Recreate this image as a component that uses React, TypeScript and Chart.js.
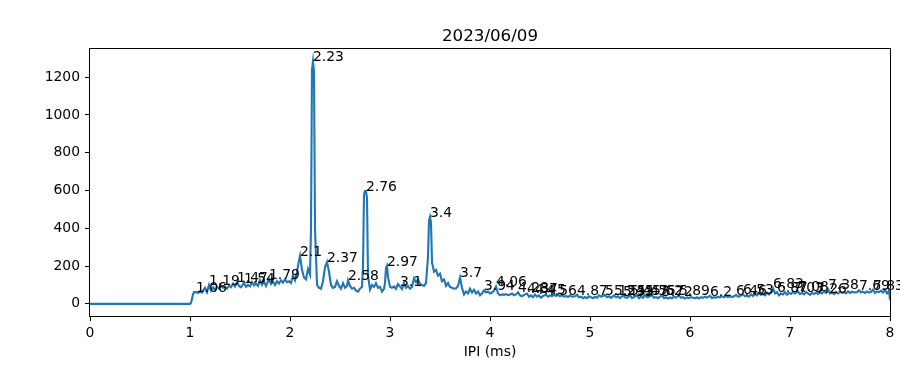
import React, { useEffect, useRef } from 'react';
import { Chart, registerables } from 'chart.js';

Chart.register(...registerables);

const titleText = '2023/06/09';
const xAxisLabel = 'IPI (ms)';
const xTicks = [0, 1, 2, 3, 4, 5, 6, 7, 8];
const yTicks = [0, 200, 400, 600, 800, 1000, 1200];

const ipiMs = [
  0, 1.0, 1.01, 1.03, 1.04, 1.06, 1.08, 1.1, 1.12, 1.14, 1.15, 1.17, 1.19, 1.21, 1.23, 1.25, 1.27, 1.29,
  1.31, 1.33, 1.35, 1.37, 1.39, 1.41, 1.43, 1.45, 1.47, 1.49, 1.51, 1.54, 1.56, 1.58, 1.6, 1.62, 1.64,
  1.66, 1.68, 1.7, 1.72, 1.74, 1.76, 1.79, 1.81, 1.83, 1.85, 1.87, 1.89, 1.91, 1.93, 1.95, 1.97, 1.99,
  2.01, 2.03, 2.05, 2.07, 2.09, 2.1, 2.12, 2.14, 2.16, 2.18, 2.2, 2.21, 2.22, 2.23, 2.24, 2.25, 2.27,
  2.29, 2.31, 2.33, 2.35, 2.37, 2.39, 2.41, 2.43, 2.45, 2.47, 2.49, 2.51, 2.53, 2.55, 2.57, 2.58, 2.6,
  2.62, 2.64, 2.66, 2.68, 2.7, 2.72, 2.73, 2.74, 2.75, 2.76, 2.77, 2.78, 2.8, 2.82, 2.84, 2.86, 2.88,
  2.9, 2.92, 2.94, 2.95, 2.96, 2.97, 2.98, 3.0, 3.02, 3.04, 3.06, 3.08, 3.1, 3.12, 3.14, 3.16, 3.18,
  3.2, 3.22, 3.24, 3.26, 3.28, 3.3, 3.32, 3.34, 3.36, 3.38, 3.39, 3.4, 3.41, 3.42, 3.44, 3.46, 3.48,
  3.5, 3.52, 3.54, 3.56, 3.58, 3.6, 3.62, 3.64, 3.66, 3.68, 3.7, 3.72, 3.74, 3.76, 3.78, 3.8, 3.82,
  3.84, 3.86, 3.88, 3.9, 3.92, 3.94, 3.96, 3.98, 4.0, 4.02, 4.04, 4.06, 4.08, 4.1, 4.12, 4.14, 4.16,
  4.18, 4.2, 4.22, 4.24, 4.26, 4.28, 4.3, 4.32, 4.34, 4.37, 4.39, 4.41, 4.43, 4.45, 4.47, 4.49, 4.51,
  4.53, 4.56, 4.58, 4.6, 4.62, 4.64, 4.66, 4.68, 4.7, 4.72, 4.74, 4.76, 4.78, 4.8, 4.82, 4.85, 4.87,
  4.89, 4.91, 4.93, 4.95, 4.97, 4.99, 5.01, 5.03, 5.05, 5.07, 5.09, 5.11, 5.13, 5.15, 5.17, 5.19, 5.21,
  5.24, 5.26, 5.28, 5.3, 5.33, 5.35, 5.37, 5.4, 5.42, 5.44, 5.47, 5.49, 5.51, 5.53, 5.55, 5.57, 5.59,
  5.62, 5.64, 5.66, 5.68, 5.7, 5.72, 5.74, 5.76, 5.78, 5.8, 5.82, 5.84, 5.86, 5.89, 5.91, 5.93, 5.95,
  5.97, 5.99, 6.01, 6.03, 6.05, 6.07, 6.09, 6.11, 6.13, 6.15, 6.17, 6.2, 6.22, 6.24, 6.26, 6.28, 6.3,
  6.32, 6.34, 6.36, 6.38, 6.4, 6.42, 6.44, 6.46, 6.48, 6.5, 6.53, 6.55, 6.57, 6.59, 6.61, 6.63, 6.65,
  6.67, 6.69, 6.71, 6.73, 6.75, 6.77, 6.79, 6.81, 6.83, 6.85, 6.87, 6.89, 6.91, 6.93, 6.95, 6.97, 6.99,
  7.01, 7.03, 7.05, 7.08, 7.1, 7.12, 7.14, 7.16, 7.18, 7.2, 7.22, 7.24, 7.26, 7.28, 7.3, 7.32, 7.34,
  7.36, 7.38, 7.4, 7.42, 7.44, 7.46, 7.48, 7.5, 7.52, 7.54, 7.56, 7.58, 7.6, 7.62, 7.64, 7.67, 7.69,
  7.71, 7.73, 7.75, 7.77, 7.79, 7.81, 7.83, 7.85, 7.87, 7.89, 7.91, 7.93, 7.95, 7.97, 7.99, 8.0,
];

const counts = [
  0, 0, 5, 50, 62, 62, 58, 63, 60, 78, 85, 62, 100, 70, 88, 72, 92, 80,
  95, 85, 90, 80, 96, 88, 108, 92, 115, 95, 88, 112, 90, 100, 92, 115, 98,
  108, 95, 125, 100, 118, 95, 132, 105, 118, 100, 120, 108, 125, 112, 130, 115, 120,
  110, 150, 125, 170, 230, 255, 180, 140, 130, 185, 155, 400, 1240, 1285, 1230, 400, 100,
  85, 80, 120, 195, 222, 170, 100, 85, 90, 120, 95, 80, 110, 85, 95, 125, 95,
  80, 85, 70, 65, 80, 90, 200, 580, 597, 597, 560, 150, 75, 100, 90, 110, 85,
  90, 65, 80, 110, 190, 202, 140, 90, 85, 92, 80, 105, 92, 78, 110, 85, 95,
  80, 90, 135, 115, 130, 105, 100, 95, 110, 250, 440, 460, 430, 220, 170, 180, 150,
  160, 120, 130, 95, 110, 90, 85, 80, 82, 95, 140, 85, 50, 65, 55, 80, 60,
  75, 55, 65, 45, 55, 72, 60, 65, 55, 60, 70, 92, 55, 45, 50, 48, 52,
  46, 50, 55, 45, 50, 62, 45, 40, 48, 55, 38, 45, 35, 50, 38, 45, 32,
  42, 48, 38, 45, 40, 50, 42, 48, 40, 46, 38, 42, 36, 44, 38, 40, 48,
  35, 38, 30, 36, 30, 40, 35, 30, 38, 32, 45, 38, 42, 48, 35, 40, 32,
  45, 35, 40, 30, 44, 35, 32, 46, 30, 36, 45, 30, 38, 32, 48, 35, 38,
  46, 32, 36, 30, 38, 44, 30, 35, 28, 34, 30, 38, 33, 45, 32, 36, 28,
  34, 30, 36, 32, 30, 35, 28, 36, 32, 38, 33, 42, 30, 36, 32, 38, 34,
  40, 35, 42, 36, 40, 36, 40, 48, 38, 42, 50, 40, 44, 38, 50, 42, 55,
  45, 58, 48, 52, 45, 60, 50, 62, 82, 55, 62, 45, 55, 50, 62, 48, 58,
  52, 64, 55, 66, 52, 58, 50, 62, 55, 48, 58, 52, 60, 52, 62, 55, 65,
  58, 78, 55, 60, 52, 62, 55, 65, 58, 62, 55, 66, 58, 65, 60, 62, 72,
  60, 65, 58, 66, 60, 64, 75, 58, 66, 62, 70, 60, 72, 55, 70, 20,
];

const peakIpi = [
  1.06, 1.19, 1.47, 1.54, 1.79, 2.1, 2.23, 2.37, 2.58, 2.76, 2.97, 3.1, 3.4, 3.7, 3.94, 4.06,
  4.28, 4.37, 4.45, 4.56, 4.87, 5.15, 5.24, 5.33, 5.4, 5.47, 5.55, 5.62, 5.72, 5.89, 6.2, 6.46,
  6.53, 6.83, 6.87, 7.03, 7.08, 7.26, 7.38, 7.69, 7.83,
];

const FONT = "'DejaVu Sans', sans-serif";

export default function App() {
  const canvasRef = useRef<HTMLCanvasElement | null>(null);

  useEffect(() => {
    document.body.style.margin = '0';
    const canvas = canvasRef.current;
    if (!canvas) return;

    const points = ipiMs.map((x, i) => ({ x, y: counts[i] }));
    const peaks = peakIpi.map((p) => {
      const idx = ipiMs.findIndex((v) => Math.abs(v - p) < 1e-9);
      return { x: p, y: counts[idx], label: String(p) };
    });

    const decorations = {
      id: 'decorations',
      afterDatasetsDraw(chart: any) {
        const { ctx, chartArea, scales } = chart;
        const xs = scales.x;
        const ys = scales.y;
        ctx.save();
        ctx.fillStyle = '#000';
        ctx.font = `13.9px ${FONT}`;
        ctx.textAlign = 'left';
        ctx.textBaseline = 'alphabetic';
        peaks.forEach((p) => {
          ctx.fillText(p.label, xs.getPixelForValue(p.x), ys.getPixelForValue(p.y));
        });
        ctx.strokeStyle = '#000';
        ctx.lineWidth = 1;
        ctx.strokeRect(
          Math.round(chartArea.left) - 0.5,
          Math.round(chartArea.top) - 0.5,
          Math.round(chartArea.right - chartArea.left) + 1,
          Math.round(chartArea.bottom - chartArea.top) + 1
        );
        const cx = (chartArea.left + chartArea.right) / 2;
        ctx.font = `16.7px ${FONT}`;
        ctx.textAlign = 'center';
        ctx.fillText(titleText, cx, chartArea.top - 8.3);
        ctx.font = `13.9px ${FONT}`;
        ctx.fillText(xAxisLabel, cx, 356);
        ctx.restore();
      },
    };

    const axisCommon = {
      type: 'linear' as const,
      grid: {
        display: true,
        drawOnChartArea: false,
        drawTicks: true,
        tickLength: 5,
        color: '#000',
        lineWidth: 1,
      },
      border: { display: false },
      ticks: {
        color: '#000',
        font: { family: FONT, size: 13.9 },
        autoSkip: false,
        maxRotation: 0,
        callback: (v: any) => String(v),
      },
    };

    const chart = new Chart(canvas, {
      type: 'line',
      data: {
        datasets: [
          {
            data: points,
            borderColor: '#1f77b4',
            borderWidth: 2.1,
            pointRadius: 0,
            tension: 0,
            fill: false,
          },
        ],
      },
      options: {
        animation: false,
        responsive: false,
        devicePixelRatio: 1,
        layout: { padding: { top: 49, right: 10, left: 0, bottom: 0 } },
        plugins: {
          legend: { display: false },
          tooltip: { enabled: false },
          title: { display: false },
        },
        scales: {
          x: {
            ...axisCommon,
            min: 0,
            max: 8,
            ticks: { ...axisCommon.ticks, padding: 4 },
            afterBuildTicks: (s: any) => {
              s.ticks = xTicks.map((v) => ({ value: v }));
            },
            afterFit: (s: any) => {
              s.height = 50;
            },
          },
          y: {
            ...axisCommon,
            min: -64.25,
            max: 1349.25,
            ticks: { ...axisCommon.ticks, padding: 5 },
            afterBuildTicks: (s: any) => {
              s.ticks = yTicks.map((v) => ({ value: v }));
            },
            afterFit: (s: any) => {
              s.width = 90;
            },
          },
        },
      },
      plugins: [decorations],
    });

    return () => chart.destroy();
  }, []);

  return (
    <div style={{ position: 'absolute', left: 0, top: 0, width: 900, height: 366, background: '#fff' }}>
      <canvas ref={canvasRef} width={900} height={366} />
    </div>
  );
}
